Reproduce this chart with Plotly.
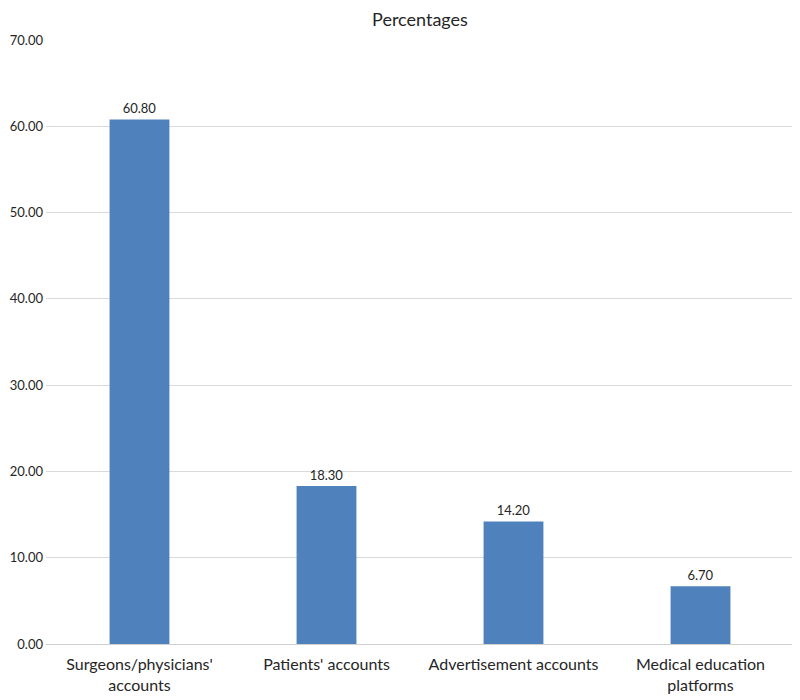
import plotly.graph_objects as go

categories = ["Surgeons/physicians'<br>accounts", "Patients' accounts", "Advertisement accounts", "Medical education<br>platforms"]
values = [60.80, 18.30, 14.20, 6.70]
tick_vals = [0, 10, 20, 30, 40, 50, 60, 70]

FONT = "Lato, Carlito, Calibri, sans-serif"

fig = go.Figure(go.Bar(
    x=categories, y=values,
    marker=dict(color="#4f81bd", line=dict(width=0)),
    text=[f"{v:.2f}" for v in values],
    textposition="outside",
    textfont=dict(size=13, color="#262626", family=FONT),
    cliponaxis=False,
))

fig.update_layout(
    width=800, height=700,
    paper_bgcolor="white", plot_bgcolor="white",
    margin=dict(l=38, r=14, t=32, b=64, autoexpand=False),
    title=dict(text="Percentages", x=0.5, xref="paper", y=1.0, yanchor="top",
               pad=dict(t=5), font=dict(size=18, color="#262626", family=FONT)),
    bargap=0.68,
    showlegend=False,
    font=dict(family=FONT, color="#262626"),
)
fig.update_yaxes(range=[0, 70], tickvals=tick_vals, tickformat=".2f",
                 showgrid=True, gridcolor="#d9d9d9", gridwidth=1,
                 zeroline=False, showline=False, ticks="", automargin=False,
                 tickfont=dict(size=13, color="#262626", family=FONT), ticklabelstandoff=2)
fig.update_xaxes(showline=True, linecolor="#d0d0d0", linewidth=1, ticks="", automargin=False,
                 tickfont=dict(size=16, color="#262626", family=FONT), ticklabelstandoff=6)

fig.write_html("out.html")
